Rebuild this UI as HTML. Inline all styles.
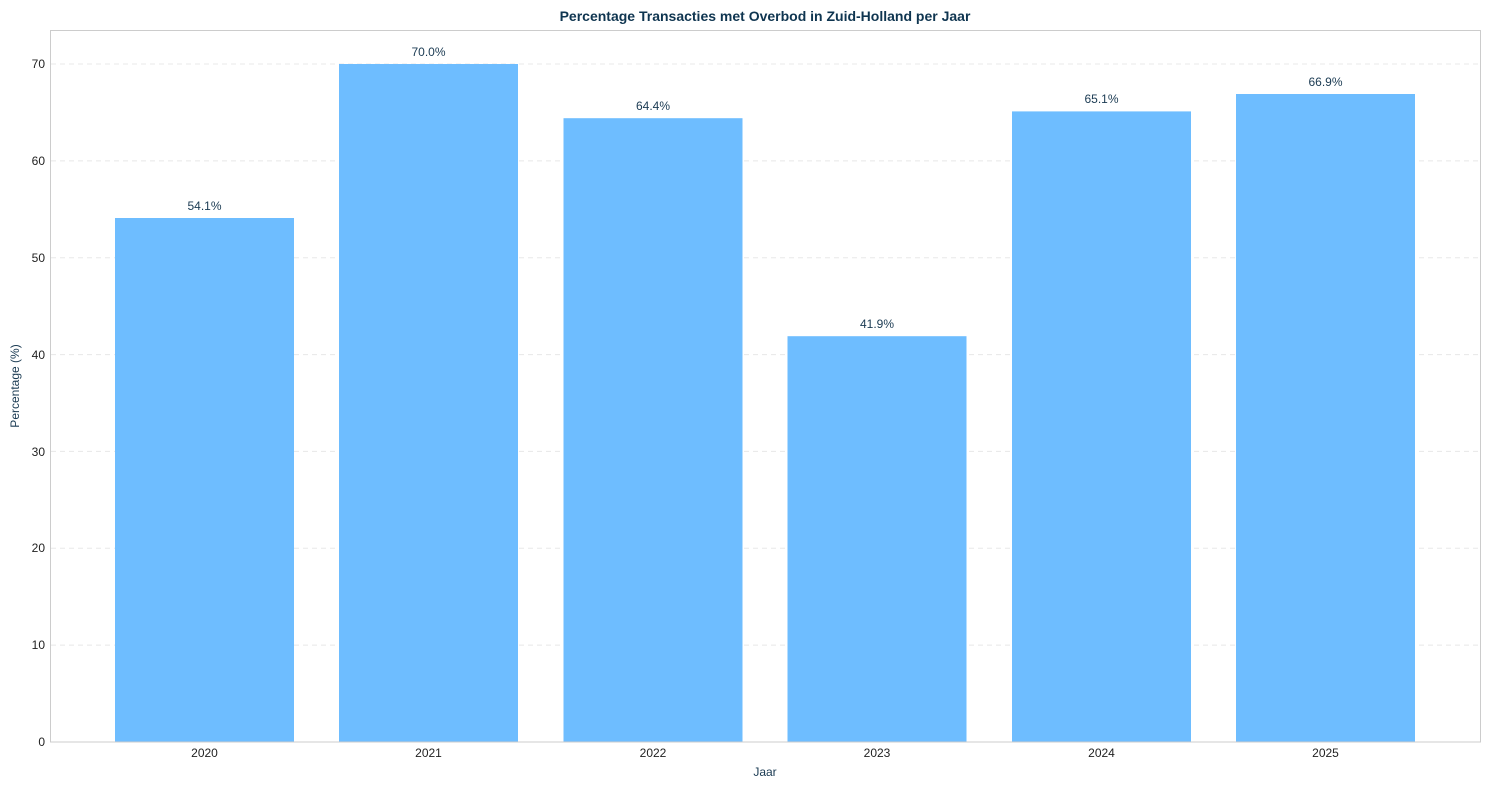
<!DOCTYPE html>
<html><head><meta charset="utf-8"><style>body{margin:0;background:#fff}svg{display:block}</style></head>
<body>
<svg width="1489" height="790" xmlns="http://www.w3.org/2000/svg" font-family="Liberation Sans, Arial, sans-serif">
<rect width="1489" height="790" fill="#fff"/>
<g stroke="#e8e8e8" stroke-dasharray="5,4" stroke-width="1">
<line x1="51" x2="1480" y1="645.1" y2="645.1"/>
<line x1="51" x2="1480" y1="548.3" y2="548.3"/>
<line x1="51" x2="1480" y1="451.4" y2="451.4"/>
<line x1="51" x2="1480" y1="354.6" y2="354.6"/>
<line x1="51" x2="1480" y1="257.7" y2="257.7"/>
<line x1="51" x2="1480" y1="160.9" y2="160.9"/>
<line x1="51" x2="1480" y1="64" y2="64"/>
</g>
<g fill="#6ebdff">
<rect x="115" y="218" width="179" height="524"/>
<rect x="339" y="64" width="179" height="678"/>
<rect x="563.5" y="118.2" width="179" height="623.8"/>
<rect x="787.5" y="336.2" width="179" height="405.8"/>
<rect x="1012" y="111.4" width="179" height="630.6"/>
<rect x="1236" y="94" width="179" height="648"/>
</g>
<rect x="50.5" y="30.5" width="1430" height="711.5" fill="none" stroke="#cccccc" stroke-width="1"/>
<g font-size="12" fill="#1a3a52" text-anchor="middle">
<text x="204.5" y="210">54.1%</text>
<text x="428.5" y="56">70.0%</text>
<text x="653" y="110">64.4%</text>
<text x="877" y="328">41.9%</text>
<text x="1101.5" y="103">65.1%</text>
<text x="1325.5" y="86">66.9%</text>
</g>
<g font-size="12" fill="#222" text-anchor="end">
<text x="45" y="746">0</text>
<text x="45" y="649">10</text>
<text x="45" y="552">20</text>
<text x="45" y="456">30</text>
<text x="45" y="359">40</text>
<text x="45" y="262">50</text>
<text x="45" y="165">60</text>
<text x="45" y="68">70</text>
</g>
<g font-size="12" fill="#222" text-anchor="middle">
<text x="204.5" y="757">2020</text>
<text x="428.5" y="757">2021</text>
<text x="653" y="757">2022</text>
<text x="877" y="757">2023</text>
<text x="1101.5" y="757">2024</text>
<text x="1325.5" y="757">2025</text>
</g>
<text x="765" y="776" font-size="12" fill="#1a3a52" text-anchor="middle">Jaar</text>
<text transform="translate(19,386) rotate(-90)" font-size="12" fill="#1a3a52" text-anchor="middle">Percentage (%)</text>
<text x="765" y="21" font-size="14" font-weight="bold" fill="#0f3550" text-anchor="middle">Percentage Transacties met Overbod in Zuid-Holland per Jaar</text>
</svg>
</body></html>
